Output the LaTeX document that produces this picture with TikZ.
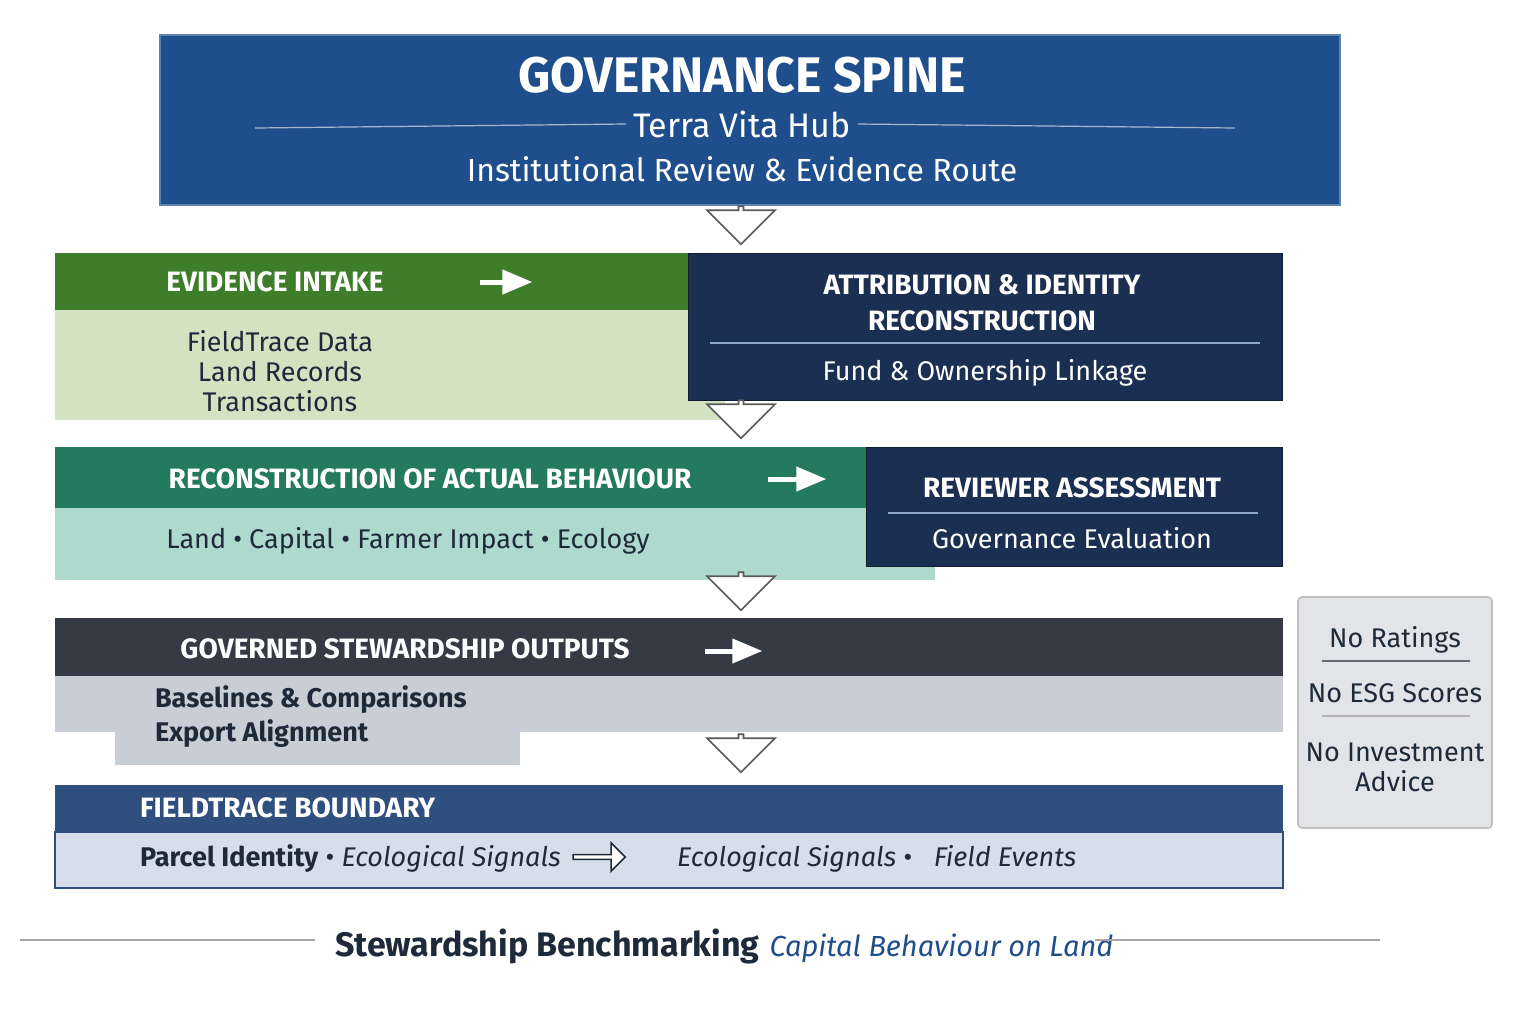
\documentclass[tikz,border=0pt]{standalone}
\usepackage{fontspec}
\setmainfont{Fira Sans}
\usetikzlibrary{shapes, arrows, positioning, fit, backgrounds}
\definecolor{SpineBlue}{HTML}{1F4E8C}
\definecolor{IntakeGreen}{HTML}{3E7D2A}
\definecolor{IntakeLight}{HTML}{D3E3C2}
\definecolor{BehavTeal}{HTML}{237A5F}
\definecolor{BehavLight}{HTML}{AEDACE}
\definecolor{Navy}{HTML}{1B2F52}
\definecolor{OutDark}{HTML}{363A45}
\definecolor{OutLight}{HTML}{C9CDD4}
\definecolor{FieldBlue}{HTML}{2F4F7F}
\definecolor{FieldLight}{HTML}{D5DEEA}
\definecolor{SideGrey}{HTML}{E3E4E7}
\definecolor{TextDark}{HTML}{1E2A3A}
\newcommand{\sep}{\ \textbullet\ }
\begin{document}
\begin{tikzpicture}[x=0.5pt,y=-0.5pt,
			box/.style={inner sep=0pt,draw=none},
			head/.style={font=\bfseries\fontsize{14}{16}\selectfont,text=white},
			body/.style={font=\fontsize{13.5}{16}\selectfont,text=TextDark,align=center},
			rule/.style={draw=#1,line width=0.6pt},
			down/.style={single arrow,draw=gray!70!black,fill=white,thick,shape border rotate=270,
				minimum width=34pt,single arrow head extend=5pt,minimum height=19pt,inner sep=0pt},
			go/.style={-triangle 45,white,line width=2.5pt}
		]
			\useasboundingbox (0,0) rectangle (1536,1024);
			% governance spine
			\node (spine) [box,fill=SpineBlue,draw=SpineBlue!70!white,thick,fit={(160,35) (1340,205)}] {};
			\node (spineTitle) [font=\bfseries\fontsize{25}{28}\selectfont,text=white] at (742,75) {GOVERNANCE SPINE};
			\node (hub) [font=\fontsize{17}{20}\selectfont,text=white] at (742,124) {Terra Vita Hub};
			\node (route) [font=\fontsize{16}{19}\selectfont,text=white] at (742,169) {Institutional Review \& Evidence Route};
			\draw[rule=white!60!SpineBlue] (255,128) -- (hub.west);
			\draw[rule=white!60!SpineBlue] (hub.east) -- (1235,128);

			% evidence intake
			\node (intakeBody) [box,fill=IntakeLight,fit={(55,310) (725,420)}] {};
			\node (intake) [box,fill=IntakeGreen,fit={(55,253) (690,310)}] {};
			\node (intakeText) [head] at (275,282) {EVIDENCE INTAKE};
			\node (intakeItems) [body] at (280,371) {FieldTrace Data\\[-1pt]Land Records\\[-1pt]Transactions};
			\coordinate (intakeGo) at (532,282);
			\draw[go] (480,282) -- (intakeGo);

			\node (attrib) [box,fill=Navy,draw=Navy!60!black,fit={(688,253) (1282,400)}] {};
			\node (attribText) [head,align=center] at (982,303) {ATTRIBUTION \& IDENTITY\\[2pt]RECONSTRUCTION};
			\draw[rule=SpineBlue!50!white] (710,343) -- (1260,343);
			\node (linkage) [body,text=white] at (985,373) {Fund \& Ownership Linkage};

			% actual behaviour
			\node (behavBody) [box,fill=BehavLight,fit={(55,508) (935,580)}] {};
			\node (behav) [box,fill=BehavTeal,fit={(55,447) (866,508)}] {};
			\node (behavText) [head] at (430,479) {RECONSTRUCTION OF ACTUAL BEHAVIOUR};
			\node (behavItems) [body] at (408,541) {Land\sep Capital\sep Farmer Impact\sep Ecology};
			\coordinate (behavGo) at (826,479);
			\draw[go] (768,479) -- (behavGo);

			\node (review) [box,fill=Navy,draw=Navy!60!black,fit={(866,447) (1282,566)}] {};
			\node (reviewText) [head] at (1072,488) {REVIEWER ASSESSMENT};
			\draw[rule=SpineBlue!50!white] (888,513) -- (1258,513);
			\node (evaluation) [body,text=white] at (1072,538) {Governance Evaluation};

			% stewardship outputs
			\node (outBody) [box,fill=OutLight,fit={(55,676) (1283,732)}] {};
			\node (outTail) [box,fill=OutLight,fit={(115,730) (520,765)}] {};
			\node (out) [box,fill=OutDark,fit={(55,618) (1283,676)}] {};
			\node (outText) [head] at (405,649) {GOVERNED STEWARDSHIP OUTPUTS};
			\node (outItems) [body,font=\bfseries\fontsize{13.5}{17}\selectfont,align=left,anchor=west] at (148,717) {Baselines \& Comparisons\\Export Alignment};
			\coordinate (outGo) at (762,651);
			\draw[go] (705,651) -- (outGo);

			% fieldtrace boundary
			\node (fieldBody) [box,fill=FieldLight,draw=FieldBlue,thick,fit={(55,832) (1283,888)}] {};
			\node (field) [box,fill=FieldBlue,fit={(55,785) (1283,832)}] {};
			\node (fieldText) [head,anchor=west] at (133,808) {FIELDTRACE BOUNDARY};
			\node (parcel) [body,anchor=west] at (133,859) {\textbf{Parcel Identity}\sep \textit{Ecological Signals}};
			\node (signals) [body,anchor=west] at (670,859) {\textit{Ecological Signals}\sep\ \ \textit{Field Events}};
			\node (handoff) [single arrow,draw=TextDark,fill=white,thick,minimum width=14pt,minimum height=26pt,
				single arrow head extend=2pt,inner sep=0pt] at (598,857) {};

			% down arrows
			\node (d1) [down] at (741,224) {};
			\node (d2) [down] at (741,418) {};
			\node (d3) [down] at (741,590) {};
			\node (d4) [down] at (741,752) {};

			% side notes
			\node (side) [box,fill=SideGrey,draw=gray!50,thick,rounded corners=2pt,fit={(1298,597) (1492,828)}] {};
			\node (noRatings) [body] at (1395,640) {No Ratings};
			\node (noEsg) [body] at (1395,693) {No ESG Scores};
			\node (noAdvice) [body] at (1395,767) {No Investment\\[-1pt]Advice};
			\draw[rule=TextDark!70] (1322,661) -- (1470,661);
			\draw[rule=gray!60] (1322,716) -- (1470,716);

			% footer
			\node (bench) [font=\bfseries\fontsize{17}{20}\selectfont,text=TextDark,anchor=west] at (328,946) {Stewardship Benchmarking};
			\node (land) [font=\itshape\fontsize{14.5}{17}\selectfont,text=SpineBlue,anchor=base west] at ([xshift=-2pt]bench.base east) {Capital Behaviour on Land};
			\draw[rule=gray!70] (20,940) -- (315,940);
			\draw[rule=gray!70] (1095,940) -- (1380,940);
		\end{tikzpicture}
\end{document}
